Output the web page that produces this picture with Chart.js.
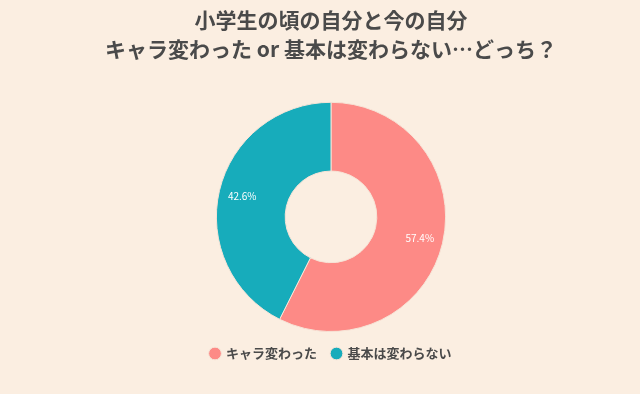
<!DOCTYPE html>
<html>
<head>
<meta charset="utf-8">
<script src="https://cdn.jsdelivr.net/npm/chart.js@4.4.0/dist/chart.umd.min.js"></script>
<style>
  html, body { margin: 0; padding: 0; background: #fbeee1; }
  #wrap { width: 640px; height: 394px; }
</style>
</head>
<body>
<div id="wrap"><canvas id="chart"></canvas></div>
<script>
const titleLines = ['小学生の頃の自分と今の自分', 'キャラ変わった or 基本は変わらない…どっち？']
const labels = ['キャラ変わった', '基本は変わらない']
const values = [57.4, 42.6]
const colors = ['#fd8a86', '#17acbb']

const FONT = '"Noto Sans CJK JP", "Noto Sans", sans-serif'

// percent labels inside each slice
const sliceLabels = {
  id: 'sliceLabels',
  afterDatasetsDraw(chart) {
    const ctx = chart.ctx
    const meta = chart.getDatasetMeta(0)
    ctx.save()
    ctx.fillStyle = '#ffffff'
    ctx.font = '10px ' + FONT
    ctx.textAlign = 'center'
    ctx.textBaseline = 'middle'
    meta.data.forEach((arc, i) => {
      const p = arc.getProps(['x', 'y', 'startAngle', 'endAngle', 'innerRadius', 'outerRadius'])
      const mid = (p.startAngle + p.endAngle) / 2
      const r = p.innerRadius + (p.outerRadius - p.innerRadius) * 0.66
      ctx.fillText(values[i].toFixed(1) + '%', p.x + Math.cos(mid) * r, p.y + Math.sin(mid) * r)
    })
    ctx.restore()
  }
}

new Chart(document.getElementById('chart'), {
  type: 'doughnut',
  data: {
    labels: labels,
    datasets: [{
      data: values,
      backgroundColor: colors,
      borderColor: '#f6e3d6',
      borderWidth: 1
    }]
  },
  options: {
    responsive: true,
    maintainAspectRatio: false,
    animation: false,
    cutout: '40%',
    layout: { padding: { top: 0, bottom: 24, left: 22, right: 0 } },
    plugins: {
      title: {
        display: true,
        text: titleLines,
        color: '#4a4a4a',
        font: { family: FONT, size: 21, weight: 'bold', lineHeight: 1.4 },
        padding: { top: 5, bottom: 38 }
      },
      legend: {
        position: 'bottom',
        labels: {
          usePointStyle: true,
          pointStyle: 'circle',
          boxWidth: 9,
          boxHeight: 9,
          padding: 15,
          color: '#4a4a4a',
          font: { family: FONT, size: 13, weight: 'bold' }
        }
      },
      tooltip: { enabled: false }
    }
  },
  plugins: [sliceLabels]
})
</script>
</body>
</html>
